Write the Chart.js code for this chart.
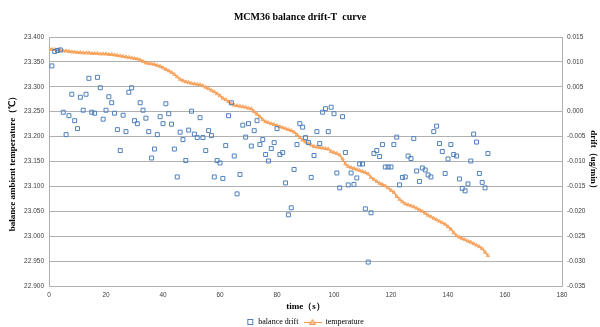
<!DOCTYPE html>
<html>
<head>
<meta charset="utf-8">
<title>MCM36 balance drift-T curve</title>
<script src="https://cdn.jsdelivr.net/npm/chart.js@4.4.0/dist/chart.umd.min.js"></script>
<style>
  html, body { margin: 0; padding: 0; background: #fff; }
  #wrap { width: 600px; height: 327px; }
</style>
</head>
<body>
<div id="wrap"><canvas id="driftChart"></canvas></div>
<script>
// --- DATA (one sample per second) ---
// temperature, t = 0 .. 154 s
const temperature = [
    23.376, 23.375, 23.375, 23.374, 23.373, 23.372, 23.372, 23.371, 23.370, 23.370,
    23.369, 23.369, 23.368, 23.368, 23.368, 23.367, 23.367, 23.367, 23.366, 23.366,
    23.366, 23.365, 23.365, 23.364, 23.363, 23.362, 23.361, 23.360, 23.359, 23.358,
    23.357, 23.356, 23.354, 23.351, 23.348, 23.347, 23.346, 23.345, 23.343, 23.341,
    23.338, 23.335, 23.332, 23.329, 23.325, 23.320, 23.315, 23.312, 23.310, 23.309,
    23.307, 23.306, 23.305, 23.304, 23.302, 23.299, 23.296, 23.293, 23.290, 23.286,
    23.282, 23.277, 23.274, 23.270, 23.266, 23.263, 23.262, 23.261, 23.260, 23.259,
    23.257, 23.256, 23.250, 23.245, 23.240, 23.234, 23.230, 23.228, 23.226, 23.224,
    23.222, 23.220, 23.218, 23.216, 23.214, 23.212, 23.209, 23.204, 23.198, 23.193,
    23.189, 23.186, 23.183, 23.180, 23.179, 23.178, 23.177, 23.176, 23.175, 23.170,
    23.168, 23.166, 23.163, 23.155, 23.145, 23.140, 23.138, 23.136, 23.134, 23.132,
    23.130, 23.128, 23.125, 23.118, 23.114, 23.110, 23.106, 23.104, 23.101, 23.097,
    23.092, 23.088, 23.080, 23.074, 23.069, 23.065, 23.063, 23.061, 23.059, 23.056,
    23.053, 23.050, 23.046, 23.042, 23.039, 23.036, 23.033, 23.030, 23.027, 23.024,
    23.019, 23.014, 23.007, 23.001, 22.998, 22.995, 22.993, 22.990, 22.988, 22.985,
    22.982, 22.979, 22.975, 22.968, 22.961
];

// balance drift (ug/min), t = 1 .. 154 s
const driftStart = 1;
const drift = [
     0.0092,  0.0121,  0.0123,  0.0124, -0.0001, -0.0046, -0.0008,  0.0035, -0.0018, -0.0034,
     0.0029,  0.0003,  0.0035,  0.0067, -0.0001, -0.0003,  0.0069,  0.0048, -0.0015,  0.0003,
     0.0030,  0.0018, -0.0003, -0.0036, -0.0078, -0.0007, -0.0040,  0.0039,  0.0048, -0.0018,
    -0.0024,  0.0018,  0.0003, -0.0013, -0.0040, -0.0093, -0.0075, -0.0046, -0.0010, -0.0024,
     0.0016, -0.0004, -0.0025, -0.0075, -0.0131, -0.0041, -0.0056, -0.0098, -0.0037,  0.0001,
    -0.0045, -0.0052, -0.0012, -0.0052, -0.0078, -0.0038, -0.0048, -0.0131, -0.0098, -0.0103,
    -0.0134, -0.0068, -0.0008,  0.0018, -0.0089, -0.0165, -0.0126, -0.0027, -0.0051, -0.0024,
    -0.0069, -0.0038, -0.0018, -0.0066, -0.0056, -0.0086, -0.0099, -0.0074, -0.0062, -0.0034,
    -0.0086, -0.0082, -0.0143, -0.0207, -0.0193, -0.0116, -0.0066, -0.0024, -0.0031, -0.0052,
    -0.0062, -0.0132, -0.0088, -0.0040, -0.0064, -0.0001,  0.0006, -0.0040,  0.0009, -0.0004,
    -0.0123, -0.0153, -0.0010, -0.0082, -0.0147, -0.0123, -0.0146, -0.0133, -0.0105, -0.0105,
    -0.0195, -0.0302, -0.0203, -0.0084, -0.0078, -0.0090, -0.0066, -0.0111, -0.0111, -0.0111,
    -0.0066, -0.0051, -0.0147, -0.0132, -0.0131, -0.0089, -0.0094, -0.0054, -0.0119, -0.0140,
    -0.0113, -0.0117, -0.0127, -0.0131, -0.0040, -0.0029, -0.0064, -0.0080, -0.0124, -0.0095,
    -0.0066, -0.0086, -0.0089, -0.0135, -0.0154, -0.0159, -0.0145, -0.0099, -0.0045, -0.0061,
    -0.0124, -0.0142, -0.0153, -0.0084
];

// tick labels
const timeTicks = [0, 20, 40, 60, 80, 100, 120, 140, 160, 180];
const tempTicks = [22.9, 22.95, 23.0, 23.05, 23.1, 23.15, 23.2, 23.25, 23.3, 23.35, 23.4];
const driftTicks = [-0.035, -0.03, -0.025, -0.02, -0.015, -0.01, -0.005, 0, 0.005, 0.01, 0.015];

// --- STYLE ---
const blue = '#4f81bd';
const orange = '#f79646';
const gridColor = '#b0b0b0';
const tickFont = { family: 'Liberation Sans', size: 6.5 };
const titleFont = { family: 'Liberation Serif', size: 9, weight: 'bold' };
const fix3 = v => (Math.abs(v) < 1e-9 ? 0 : v).toFixed(3);

// small legend icons: hollow square, and line with triangle
function legendIcon(kind) {
    const c = document.createElement('canvas');
    c.width = 18; c.height = 8;
    const g = c.getContext('2d');
    g.lineWidth = 1;
    if (kind === 'square') {
        g.strokeStyle = blue;
        g.strokeRect(11.5, 1.5, 5, 5);
    } else {
        g.strokeStyle = orange;
        g.beginPath(); g.moveTo(0, 4.5); g.lineTo(18, 4.5); g.stroke();
        g.fillStyle = 'rgba(251,200,160,0.9)';
        g.beginPath(); g.moveTo(9, 1.5); g.lineTo(12, 6.5); g.lineTo(6, 6.5); g.closePath();
        g.fill(); g.stroke();
    }
    return c;
}
const icons = [legendIcon('square'), legendIcon('line')];

new Chart(document.getElementById('driftChart'), {
    type: 'line',
    data: {
        datasets: [{
            label: 'balance drift',
            data: drift.map((v, i) => ({ x: driftStart + i, y: v })),
            yAxisID: 'y2',
            showLine: false,
            pointStyle: 'rect',
            pointRadius: 2.8,
            pointBorderWidth: 1,
            borderColor: blue,
            backgroundColor: 'rgba(255,255,255,0)'
        }, {
            label: 'temperature',
            data: temperature.map((v, i) => ({ x: i, y: v })),
            yAxisID: 'y',
            borderColor: orange,
            borderWidth: 1.2,
            backgroundColor: 'rgba(251,200,160,0.45)',
            pointBorderColor: orange,
            pointStyle: 'triangle',
            pointRadius: 2,
            pointBorderWidth: 0.8,
            tension: 0
        }]
    },
    options: {
        responsive: true,
        maintainAspectRatio: false,
        animation: false,
        layout: { padding: 0 },
        plugins: {
            title: {
                display: true,
                text: 'MCM36 balance drift-T  curve',
                color: '#000',
                font: { family: 'Liberation Serif', size: 10, weight: 'bold' },
                padding: { top: 11, bottom: 14 }
            },
            legend: {
                position: 'bottom',
                maxHeight: 14,
                labels: {
                    usePointStyle: true,
                    pointStyleWidth: 18,
                    boxHeight: 6,
                    padding: 5,
                    color: '#000',
                    font: { family: 'Liberation Serif', size: 8 },
                    generateLabels: chart => {
                        const items = Chart.defaults.plugins.legend.labels.generateLabels(chart);
                        items.forEach((it, i) => { it.pointStyle = icons[i]; });
                        return items;
                    }
                }
            },
            tooltip: { enabled: false }
        },
        scales: {
            x: {
                type: 'linear',
                min: 0,
                max: 180,
                afterBuildTicks: s => { s.ticks = timeTicks.map(v => ({ value: v })); },
                afterFit: s => { s.height = 27; },
                grid: { display: false, drawTicks: false },
                border: { color: gridColor },
                ticks: { color: '#404040', font: tickFont, padding: 5, maxRotation: 0 },
                title: {
                    display: true,
                    text: 'time（s）',
                    color: '#000',
                    font: titleFont,
                    padding: { top: 0, bottom: 1 }
                }
            },
            y: {
                position: 'left',
                min: 22.9,
                max: 23.4,
                afterBuildTicks: s => { s.ticks = tempTicks.map(v => ({ value: v })); },
                afterFit: s => { s.width = 49; },
                grid: { color: gridColor, drawTicks: false },
                border: { color: gridColor },
                ticks: { color: '#404040', font: tickFont, padding: 5, callback: fix3 },
                title: {
                    display: true,
                    text: 'balance ambient temperature（℃）',
                    color: '#000',
                    font: titleFont,
                    padding: { top: 7.6, bottom: 0 }
                }
            },
            y2: {
                position: 'right',
                min: -0.035,
                max: 0.015,
                afterBuildTicks: s => { s.ticks = driftTicks.map(v => ({ value: v })); },
                afterFit: s => { s.width = 38; },
                grid: { drawOnChartArea: false, drawTicks: false },
                border: { color: gridColor },
                ticks: { color: '#404040', font: tickFont, padding: 5, callback: fix3 },
                title: {
                    display: true,
                    text: 'drift（ug/min）',
                    color: '#000',
                    font: titleFont,
                    padding: { top: 1.6, bottom: 0 }
                }
            }
        }
    }
});
</script>
</body>
</html>
